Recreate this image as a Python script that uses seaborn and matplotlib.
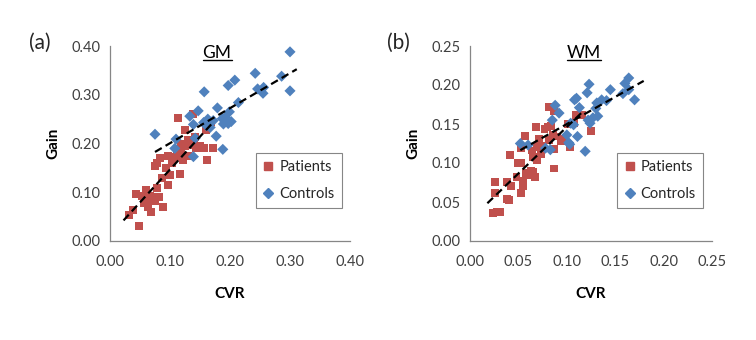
import numpy as np
import pandas as pd
import matplotlib
matplotlib.use("Agg")
import matplotlib.pyplot as plt
from matplotlib.lines import Line2D
import seaborn as sns

# ---------------- data ----------------
gm_pat_cvr = [0.049, 0.031, 0.038, 0.044, 0.053, 0.060, 0.057, 0.064, 0.069, 0.072,
              0.075, 0.081, 0.067, 0.089, 0.079, 0.086, 0.097, 0.100, 0.094, 0.097,
              0.084, 0.075, 0.078, 0.117, 0.104, 0.108, 0.111, 0.117, 0.119, 0.122,
              0.125, 0.130, 0.133, 0.136, 0.125, 0.114, 0.139, 0.142, 0.144, 0.150,
              0.156, 0.161, 0.172, 0.160, 0.169, 0.119, 0.130, 0.113, 0.140, 0.066]
gm_pat_gain = [0.031, 0.053, 0.064, 0.096, 0.093, 0.105, 0.077, 0.070, 0.060, 0.091,
               0.081, 0.091, 0.092, 0.069, 0.108, 0.129, 0.115, 0.135, 0.150, 0.174,
               0.170, 0.154, 0.160, 0.137, 0.159, 0.173, 0.179, 0.176, 0.187, 0.166,
               0.194, 0.175, 0.197, 0.207, 0.228, 0.252, 0.261, 0.213, 0.190, 0.194,
               0.190, 0.166, 0.190, 0.228, 0.243, 0.200, 0.207, 0.185, 0.200, 0.085]
gm_ctl_cvr = [0.075, 0.110, 0.108, 0.139, 0.133, 0.147, 0.139, 0.157, 0.142, 0.156,
              0.172, 0.179, 0.167, 0.177, 0.188, 0.189, 0.192, 0.199, 0.197, 0.202,
              0.197, 0.208, 0.214, 0.187, 0.161, 0.242, 0.246, 0.256, 0.255, 0.286,
              0.300, 0.300, 0.163]
gm_ctl_gain = [0.219, 0.209, 0.190, 0.173, 0.256, 0.267, 0.239, 0.306, 0.211, 0.243,
               0.247, 0.273, 0.233, 0.215, 0.188, 0.240, 0.254, 0.265, 0.241, 0.245,
               0.319, 0.330, 0.284, 0.251, 0.236, 0.344, 0.312, 0.315, 0.303, 0.338,
               0.388, 0.308, 0.250]

wm_pat_cvr = [0.024, 0.028, 0.031, 0.026, 0.026, 0.038, 0.040, 0.038, 0.042, 0.041,
              0.050, 0.053, 0.053, 0.055, 0.055, 0.048, 0.057, 0.053, 0.058, 0.061,
              0.063, 0.067, 0.065, 0.068, 0.064, 0.069, 0.069, 0.073, 0.075, 0.077,
              0.080, 0.082, 0.087, 0.084, 0.086, 0.082, 0.087, 0.087, 0.090, 0.094,
              0.098, 0.103, 0.101, 0.109, 0.116, 0.125, 0.107, 0.071, 0.065]
wm_pat_gain = [0.036, 0.037, 0.037, 0.061, 0.076, 0.054, 0.053, 0.076, 0.071, 0.110,
               0.100, 0.100, 0.062, 0.070, 0.077, 0.082, 0.135, 0.119, 0.087, 0.085,
               0.090, 0.082, 0.088, 0.146, 0.116, 0.121, 0.104, 0.112, 0.122, 0.144,
               0.146, 0.172, 0.167, 0.147, 0.136, 0.130, 0.118, 0.093, 0.134, 0.128,
               0.131, 0.121, 0.150, 0.162, 0.162, 0.141, 0.151, 0.131, 0.108]
wm_ctl_cvr = [0.052, 0.060, 0.088, 0.092, 0.085, 0.083, 0.078, 0.100, 0.103, 0.102,
              0.108, 0.110, 0.113, 0.107, 0.111, 0.119, 0.121, 0.123, 0.122, 0.124,
              0.127, 0.130, 0.131, 0.132, 0.136, 0.141, 0.145, 0.158, 0.160, 0.164,
              0.164, 0.170, 0.104]
wm_ctl_gain = [0.125, 0.123, 0.174, 0.164, 0.155, 0.117, 0.119, 0.136, 0.124, 0.126,
               0.181, 0.183, 0.171, 0.149, 0.134, 0.115, 0.190, 0.201, 0.155, 0.151,
               0.158, 0.170, 0.177, 0.160, 0.181, 0.180, 0.194, 0.189, 0.202, 0.209,
               0.194, 0.181, 0.151]

groups = ["Patients", "Controls"]
gm_yticks = [0.00, 0.10, 0.20, 0.30, 0.40]
gm_xticks = [0.00, 0.10, 0.20, 0.30, 0.40]
wm_yticks = [0.00, 0.05, 0.10, 0.15, 0.20, 0.25]
wm_xticks = [0.00, 0.05, 0.10, 0.15, 0.20, 0.25]

# ---------------- style ----------------
sns.set_style("white")
plt.rcParams["font.family"] = ["Lato", "DejaVu Sans"]

RED = "#C0504D"
BLUE = "#4F81BD"
GRAY = "#868686"
TXT = "#404040"

fig = plt.figure(figsize=(7.56, 3.40), dpi=100)
ax_a = fig.add_axes([110 / 756, 1 - 241 / 340, 240 / 756, 195 / 340])
ax_b = fig.add_axes([470 / 756, 1 - 241 / 340, 242 / 756, 195 / 340])


def make_df(pc, pg, cc, cg):
    return pd.DataFrame({
        "CVR": list(pc) + list(cc),
        "Gain": list(pg) + list(cg),
        "Group": [groups[0]] * len(pc) + [groups[1]] * len(cc),
    })


def panel(ax, df, xticks, yticks, title, title_xy, ext_hi):
    sns.scatterplot(data=df, x="CVR", y="Gain", hue="Group", style="Group",
                    hue_order=groups, style_order=groups,
                    palette={"Patients": RED, "Controls": BLUE},
                    markers={"Patients": "s", "Controls": "D"},
                    s=32, linewidth=0, ax=ax, legend=False, zorder=2)
    # linear trend lines
    for g, ext_lo, eh in zip(groups, [0.6, 0.0], ext_hi):
        sub = df[df["Group"] == g]
        k, b = np.polyfit(sub["CVR"], sub["Gain"], 1)
        lo, hi = sub["CVR"].min(), sub["CVR"].max()
        xs = np.array([lo - (hi - lo) * 0.1 * ext_lo, hi + (hi - lo) * eh])
        ax.plot(xs, k * xs + b, ls=(0, (3.5, 2)), color="black", lw=1.6, zorder=3)

    ax.set_xlim(xticks[0], xticks[-1])
    ax.set_ylim(yticks[0], yticks[-1])
    ax.set_xticks(xticks)
    ax.set_yticks(yticks)
    ax.set_xticklabels([f"{v:.2f}" for v in xticks])
    ax.set_yticklabels([f"{v:.2f}" for v in yticks])
    ax.tick_params(axis="both", direction="out", length=4, width=0.8, color=GRAY,
                   labelsize=10.5, labelcolor=TXT, pad=3)
    ax.tick_params(axis="x", pad=6)
    for sp in ["top", "right"]:
        ax.spines[sp].set_visible(False)
    for sp in ["left", "bottom"]:
        ax.spines[sp].set_color(GRAY)
        ax.spines[sp].set_linewidth(0.9)
    ax.set_xlabel("CVR", fontsize=11, fontweight="bold", labelpad=13, color="black")
    ax.set_ylabel("Gain", fontsize=11, fontweight="bold", labelpad=8, color="black")

    t = ax.text(title_xy[0], title_xy[1], title, transform=ax.transAxes,
                ha="center", va="center", fontsize=12.5, color="black")
    handles = [Line2D([], [], marker="s", ls="", color=RED, markersize=6),
               Line2D([], [], marker="D", ls="", color=BLUE, markersize=5)]
    leg = ax.legend(handles, groups, loc="lower left", bbox_to_anchor=(0.608, 0.169),
                    borderaxespad=0, frameon=True, fancybox=False, fontsize=10.5,
                    handlelength=0.7, handletextpad=0.4, borderpad=0.5,
                    labelspacing=0.85, edgecolor=GRAY, framealpha=1)
    leg.get_frame().set_linewidth(0.8)
    return t


t_a = panel(ax_a, make_df(gm_pat_cvr, gm_pat_gain, gm_ctl_cvr, gm_ctl_gain),
            gm_xticks, gm_yticks, "GM", (0.446, 0.962), [0.0, 0.05])
t_b = panel(ax_b, make_df(wm_pat_cvr, wm_pat_gain, wm_ctl_cvr, wm_ctl_gain),
            wm_xticks, wm_yticks, "WM", (0.471, 0.962), [-0.1, 0.08])

fig.text(40 / 756, 1 - 43 / 340, "(a)", fontsize=15, ha="center", va="center")
fig.text(398 / 756, 1 - 43 / 340, "(b)", fontsize=15, ha="center", va="center")

# underline titles
fig.canvas.draw()
inv = fig.transFigure.inverted()
for t in (t_a, t_b):
    bb = t.get_window_extent()
    (x0, y0), (x1, y1) = inv.transform([[bb.x0, bb.y0], [bb.x1, bb.y1]])
    fig.add_artist(Line2D([x0, x1], [y0 + 0.004, y0 + 0.004], color="black", lw=1.0,
                          transform=fig.transFigure))

fig.savefig("out.png", dpi=100, facecolor="white")
